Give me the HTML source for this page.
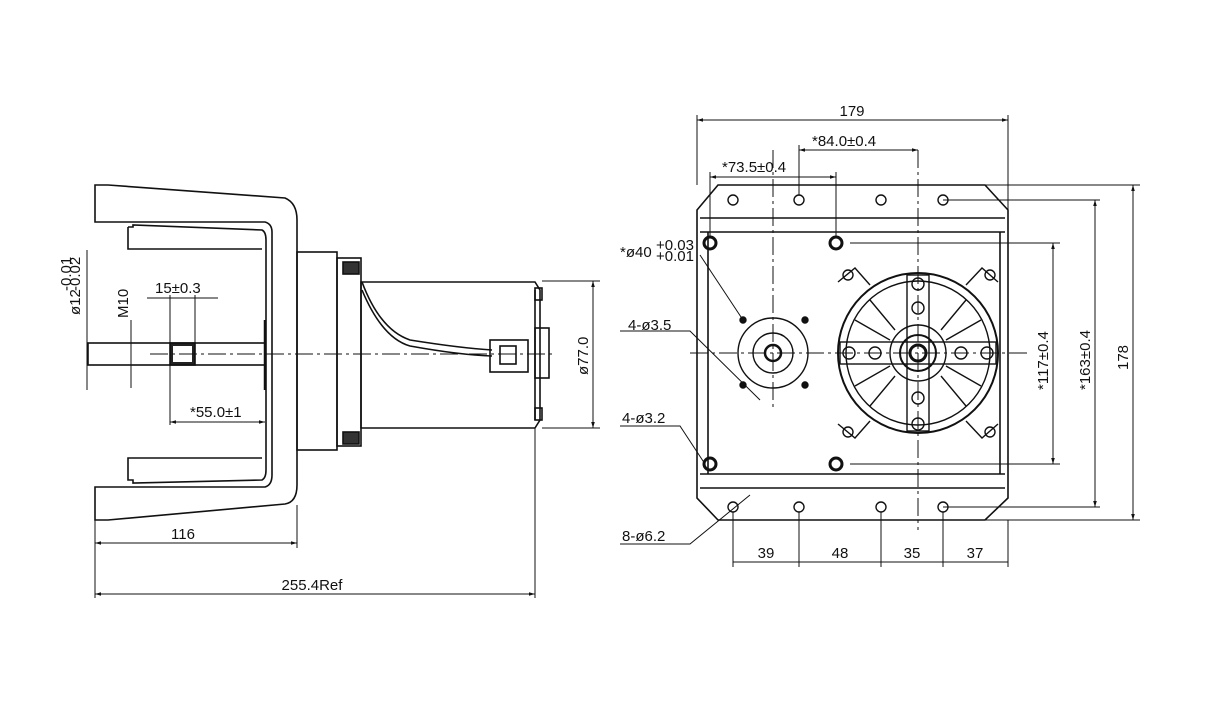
<!DOCTYPE html>
<html><head><meta charset="utf-8"><style>
html,body{margin:0;padding:0;background:#fff;}
svg{display:block;}
text{font-family:"Liberation Sans",sans-serif;font-size:15px;fill:#111;}
</style></head><body>
<svg width="1232" height="718" viewBox="0 0 1232 718" xmlns="http://www.w3.org/2000/svg">
<defs>
<marker id="a" viewBox="0 0 10 10" refX="10" refY="5" markerWidth="8" markerHeight="6" orient="auto-start-reverse"><path d="M0,2 L10,5 L0,8 Z" fill="#111"/></marker>
</defs>
<rect width="1232" height="718" fill="#fff"/>
<g fill="none" stroke="#111" stroke-width="1.6">
<!-- LEFT VIEW: bracket -->
<path d="M95,185 L108,185 L285,198 Q297,203 297,220 L297,485 Q297,502 285,504 L108,520 L95,520 L95,487 L265,487 Q272,485 272,475 L272,232 Q272,224 265,222 L95,222 Z"/>
<path d="M128,227 L133,227 L133,225 L262,230 Q266,232 266,240 L266,470 Q266,478 262,480 L133,483 L133,480 L128,480 L128,458 L262,458 M262,249 L128,249 L128,227"/>
<!-- gearbox -->
<rect x="297" y="252" width="40" height="198"/>
<rect x="337" y="258" width="24" height="188"/>
<rect x="343" y="262" width="16" height="12" fill="#333"/>
<rect x="343" y="432" width="16" height="12" fill="#333"/>
<!-- motor -->
<path d="M361,282 L535,282 L540,290 L540,420 L535,428 L361,428 Z"/>
<line x1="535" y1="290" x2="535" y2="420"/>
<rect x="535" y="288" width="7" height="12"/>
<rect x="535" y="408" width="7" height="12"/>
<rect x="535" y="328" width="14" height="50"/>
<path d="M362,282 Q380,330 410,340 Q460,348 492,350"/>
<path d="M362,290 Q382,338 410,346 Q460,355 492,356"/>
<rect x="490" y="340" width="38" height="32"/>
<rect x="500" y="346" width="16" height="18"/>
<!-- shaft -->
<rect x="88" y="343" width="177" height="22"/>
<rect x="170" y="343" width="25" height="22" fill="#222"/>
<rect x="173" y="346" width="19" height="16" fill="#fff" stroke="none"/>
<line x1="265" y1="320" x2="265" y2="390" stroke-width="2.5"/>
</g>
<g stroke="#111" stroke-width="1" fill="none">
<line x1="150" y1="354" x2="555" y2="354" stroke-dasharray="18,4,3,4"/>
<!-- dims left -->
<line x1="95" y1="520" x2="95" y2="598"/>
<line x1="297" y1="505" x2="297" y2="548"/>
<line x1="535" y1="428" x2="535" y2="598"/>
<line x1="95" y1="543" x2="297" y2="543" marker-start="url(#a)" marker-end="url(#a)"/>
<line x1="95" y1="594" x2="535" y2="594" marker-start="url(#a)" marker-end="url(#a)"/>
<line x1="542" y1="281" x2="600" y2="281"/>
<line x1="542" y1="428" x2="600" y2="428"/>
<line x1="593" y1="281" x2="593" y2="428" marker-start="url(#a)" marker-end="url(#a)"/>
<line x1="147" y1="298" x2="218" y2="298"/>
<line x1="170" y1="295" x2="170" y2="343"/>
<line x1="195" y1="295" x2="195" y2="343"/>
<line x1="170" y1="365" x2="170" y2="425"/>
<line x1="170" y1="422" x2="265" y2="422" marker-start="url(#a)" marker-end="url(#a)"/>
<line x1="87" y1="250" x2="87" y2="390"/>
<line x1="131" y1="320" x2="131" y2="388"/>
</g>
<text x="183" y="539" text-anchor="middle">116</text>
<text x="312" y="590" text-anchor="middle">255.4Ref</text>
<text x="155" y="293" font-size="17">15±0.3</text>
<text x="190" y="417" font-size="17">*55.0±1</text>
<text transform="translate(588,375) rotate(-90)" font-size="16">ø77.0</text>
<text transform="translate(80,315) rotate(-90)" font-size="14">ø12</text>
<text transform="translate(71,291) rotate(-90)" font-size="10">-0.01</text>
<text transform="translate(80,291) rotate(-90)" font-size="10">-0.02</text>
<text transform="translate(128,318) rotate(-90)">M10</text>

<!-- RIGHT VIEW -->
<g fill="none" stroke="#111" stroke-width="1.6">
<path d="M718,185 L985,185 L1008,210 L1008,498 L985,520 L718,520 L697,498 L697,210 Z"/>
<line x1="700" y1="218" x2="1005" y2="218"/>
<line x1="700" y1="232" x2="1005" y2="232"/>
<line x1="700" y1="474" x2="1005" y2="474"/>
<line x1="700" y1="488" x2="1005" y2="488"/>
<line x1="708" y1="232" x2="708" y2="474"/>
<line x1="1000" y1="232" x2="1000" y2="474"/>
<g stroke-width="1.4">
<circle cx="733" cy="200" r="5"/><circle cx="799" cy="200" r="5"/><circle cx="881" cy="200" r="5"/><circle cx="943" cy="200" r="5"/>
<circle cx="733" cy="507" r="5"/><circle cx="799" cy="507" r="5"/><circle cx="881" cy="507" r="5"/><circle cx="943" cy="507" r="5"/>
<circle cx="710" cy="243" r="6" stroke-width="3"/><circle cx="836" cy="243" r="6" stroke-width="3"/>
<circle cx="710" cy="464" r="6" stroke-width="3"/><circle cx="836" cy="464" r="6" stroke-width="3"/>
<circle cx="773" cy="353" r="35"/><circle cx="773" cy="353" r="20"/><circle cx="773" cy="353" r="8" stroke-width="2.5"/>
<circle cx="743" cy="320" r="3" fill="#111"/><circle cx="805" cy="320" r="3" fill="#111"/>
<circle cx="743" cy="385" r="3" fill="#111"/><circle cx="805" cy="385" r="3" fill="#111"/>
<circle cx="918" cy="353" r="80" stroke-width="2"/><circle cx="918" cy="353" r="72"/>
<circle cx="918" cy="353" r="28"/><circle cx="918" cy="353" r="18" stroke-width="2"/><circle cx="918" cy="353" r="8" stroke-width="3"/>
<path d="M838,282 L855,268 L870,285 M998,282 L982,268 L966,285 M838,424 L855,438 L870,421 M998,424 L982,438 L966,421"/>
<circle cx="848" cy="275" r="5"/><circle cx="990" cy="275" r="5"/><circle cx="848" cy="432" r="5"/><circle cx="990" cy="432" r="5"/>
<rect x="840" y="342" width="156" height="22"/>
<rect x="907" y="275" width="22" height="156"/>
<circle cx="849" cy="353" r="6"/><circle cx="875" cy="353" r="6"/><circle cx="961" cy="353" r="6"/><circle cx="987" cy="353" r="6"/>
<circle cx="918" cy="284" r="6"/><circle cx="918" cy="308" r="6"/><circle cx="918" cy="398" r="6"/><circle cx="918" cy="424" r="6"/>
<path d="M870,300 L895,330 M966,300 L941,330 M870,406 L895,376 M966,406 L941,376"/>
<path d="M855,320 L890,340 M981,320 L946,340 M855,386 L890,366 M981,386 L946,366"/>
</g>
</g>
<g stroke="#111" stroke-width="1" fill="none">
<line x1="690" y1="353" x2="1030" y2="353" stroke-dasharray="18,4,3,4"/>
<line x1="918" y1="150" x2="918" y2="530" stroke-dasharray="18,4,3,4"/>
<line x1="773" y1="150" x2="773" y2="410" stroke-dasharray="18,4,3,4"/>
<line x1="697" y1="115" x2="697" y2="185"/><line x1="1008" y1="115" x2="1008" y2="210"/>
<line x1="697" y1="120" x2="1008" y2="120" marker-start="url(#a)" marker-end="url(#a)"/>
<line x1="799" y1="145" x2="799" y2="195"/><line x1="799" y1="150" x2="918" y2="150" marker-start="url(#a)" marker-end="url(#a)"/>
<line x1="710" y1="172" x2="710" y2="237"/><line x1="836" y1="172" x2="836" y2="237"/><line x1="710" y1="177" x2="836" y2="177" marker-start="url(#a)" marker-end="url(#a)"/>
<line x1="850" y1="243" x2="1060" y2="243"/><line x1="850" y1="464" x2="1060" y2="464"/><line x1="1053" y1="243" x2="1053" y2="464" marker-start="url(#a)" marker-end="url(#a)"/>
<line x1="943" y1="200" x2="1100" y2="200"/><line x1="943" y1="507" x2="1100" y2="507"/><line x1="1095" y1="200" x2="1095" y2="507" marker-start="url(#a)" marker-end="url(#a)"/>
<line x1="985" y1="185" x2="1140" y2="185"/><line x1="985" y1="520" x2="1140" y2="520"/><line x1="1133" y1="185" x2="1133" y2="520" marker-start="url(#a)" marker-end="url(#a)"/>
<line x1="733" y1="512" x2="733" y2="567"/><line x1="799" y1="512" x2="799" y2="567"/><line x1="881" y1="512" x2="881" y2="567"/><line x1="943" y1="512" x2="943" y2="567"/><line x1="1008" y1="520" x2="1008" y2="567"/>
<line x1="733" y1="562" x2="1008" y2="562"/>
<path d="M700,255 L743,320"/>
<path d="M620,331 L690,331 L760,400"/>
<path d="M620,426 L680,426 L705,464"/>
<path d="M620,544 L690,544 L750,495"/>
</g>
<text x="852" y="116" text-anchor="middle">179</text>
<text x="812" y="146">*84.0±0.4</text>
<text x="722" y="172">*73.5±0.4</text>
<text x="620" y="257">*ø40</text><text x="656" y="250" font-size="10">+0.03</text><text x="656" y="261" font-size="10">+0.01</text>
<text x="628" y="330">4-ø3.5</text>
<text x="622" y="423">4-ø3.2</text>
<text x="622" y="541">8-ø6.2</text>
<text x="766" y="558" text-anchor="middle">39</text>
<text x="840" y="558" text-anchor="middle">48</text>
<text x="912" y="558" text-anchor="middle">35</text>
<text x="975" y="558" text-anchor="middle">37</text>
<text transform="translate(1048,390) rotate(-90)">*117±0.4</text>
<text transform="translate(1090,390) rotate(-90)">*163±0.4</text>
<text transform="translate(1128,370) rotate(-90)">178</text>
</svg>
</body></html>
